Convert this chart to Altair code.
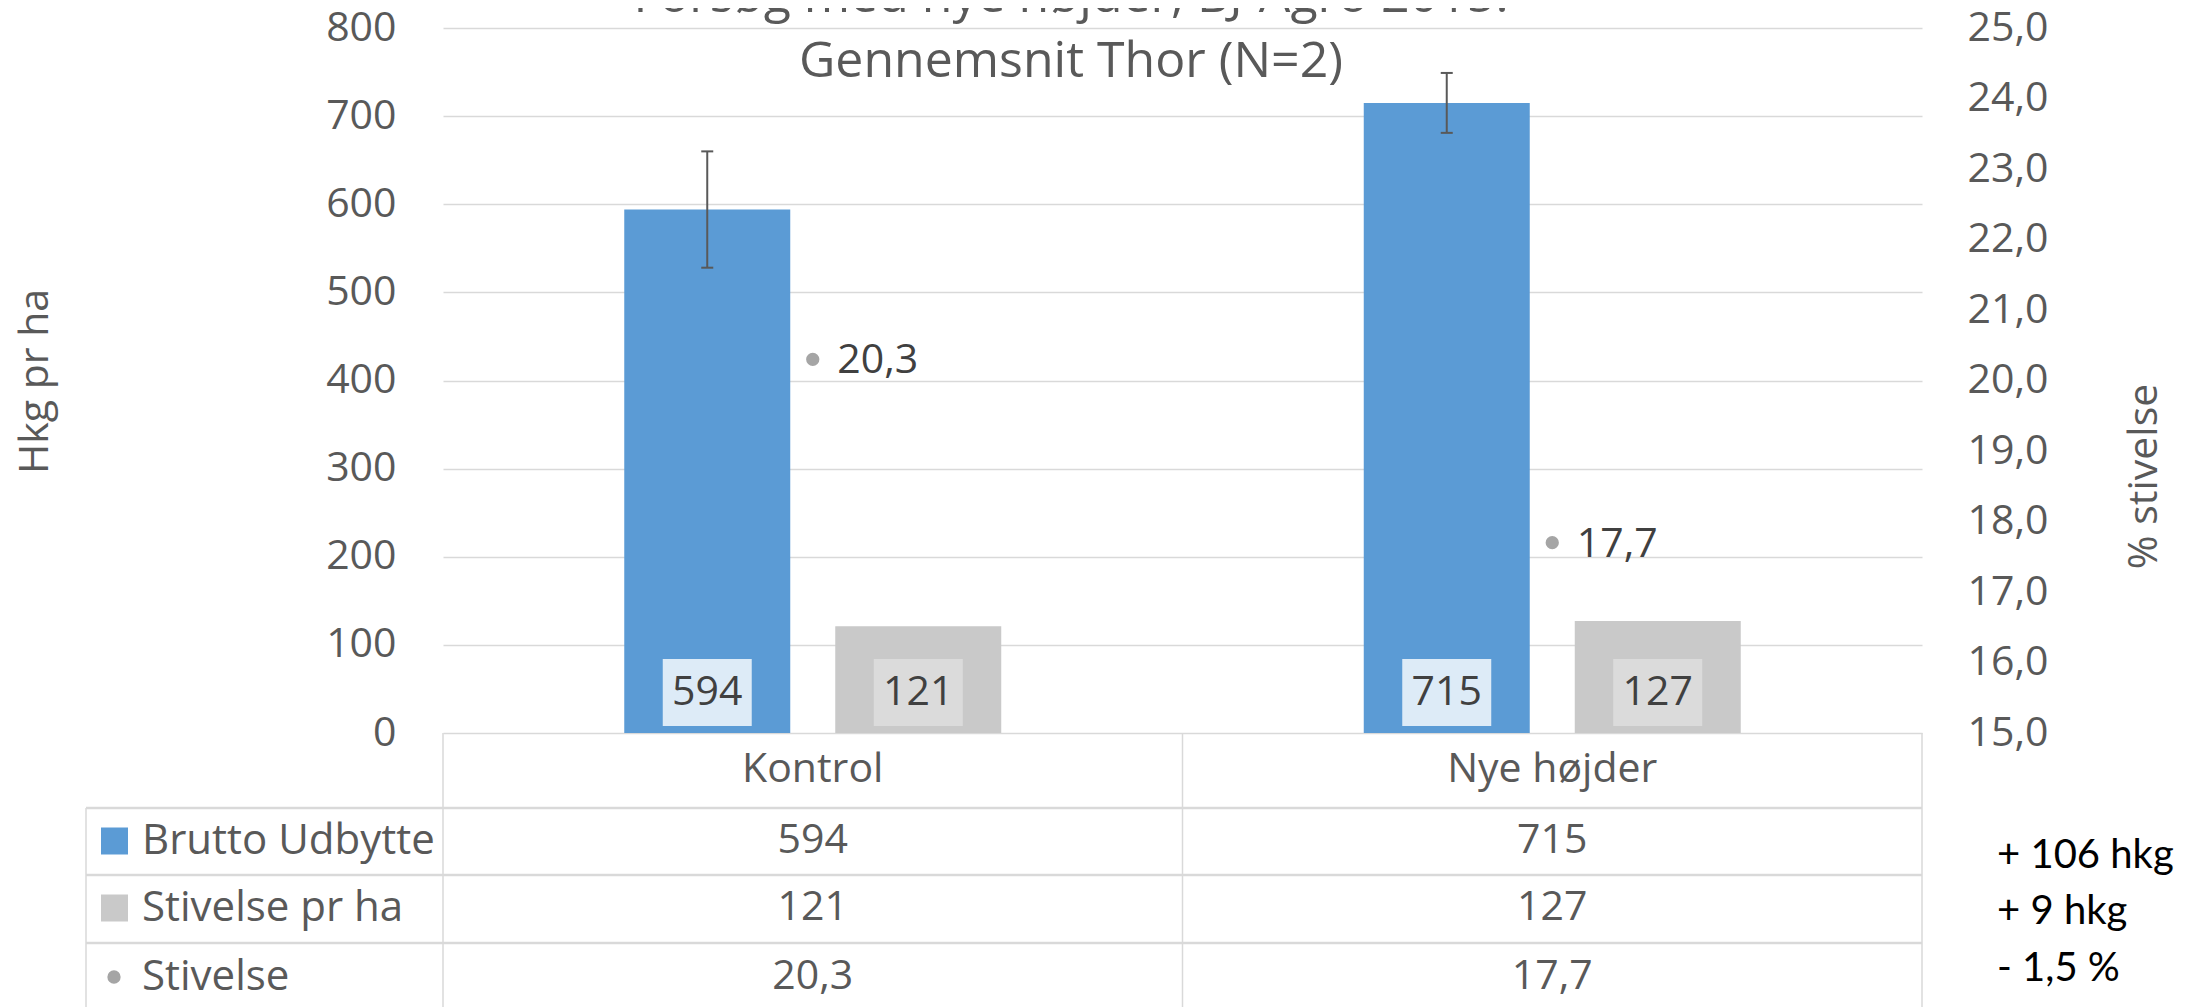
import altair as alt
import pandas as pd

# ---------------- data ----------------
CATEGORIES = ["Kontrol", "Nye højder"]
SERIES = ["Brutto Udbytte", "Stivelse pr ha", "Stivelse"]
BRUTTO = [594, 715]
BRUTTO_ERR = [66, 34]
STIVELSE_HA = [121, 127]
STIVELSE_PCT = [20.3, 17.7]
DIFFS = ["+ 106 hkg", "+ 9 hkg", "- 1,5 %"]
TITLE = ["Forsøg med nye højder, BJ-Agro 2015:", "Gennemsnit Thor (N=2)"]
LEFT_TICKS = [0, 100, 200, 300, 400, 500, 600, 700, 800]
RIGHT_TICKS = [15.0, 16.0, 17.0, 18.0, 19.0, 20.0, 21.0, 22.0, 23.0, 24.0, 25.0]

# ---------------- style ----------------
BLUE = "#5B9BD5"
GRAY = "#C9C9C9"
DOT = "#A5A5A5"
BOX_BLUE = "#DDEBF7"
BOX_GRAY = "#DBDBDB"
GRID = "#D9D9D9"
TXT = "#595959"
LBL = "#404040"
FONT = "Open Sans"
FS = 41

W, H = 1479, 705
HEADER_Y = 742                   # category header row centre (view px)
ROW_Y = [813, 880, 949]          # table row centres (view px)
LINE_Y = [780, 847, 915]         # table horizontal rules (view px)
TABLE_BOTTOM = 990
LEFT_EDGE = -357

bars_df = pd.DataFrame({
    "cat": CATEGORIES * 2,
    "series": [SERIES[0]] * 2 + [SERIES[1]] * 2,
    "value": BRUTTO + STIVELSE_HA,
})
bars_df["base"] = 0
bars_df["label"] = bars_df["value"].astype(str)

err_df = pd.DataFrame({
    "cat": CATEGORIES,
    "series": [SERIES[0]] * 2,
    "lo": [v - e for v, e in zip(BRUTTO, BRUTTO_ERR)],
    "hi": [v + e for v, e in zip(BRUTTO, BRUTTO_ERR)],
})

pct_df = pd.DataFrame({
    "cat": CATEGORIES,
    "pct": STIVELSE_PCT,
    "label": [f"{v:.1f}".replace(".", ",") for v in STIVELSE_PCT],
})

cat_df = pd.DataFrame({"cat": CATEGORIES})
one = pd.DataFrame({"k": [0]})

x_scale = alt.Scale(domain=CATEGORIES, paddingInner=0, paddingOuter=0)
xoff_scale = alt.Scale(domain=SERIES[:2], paddingInner=0.2133, paddingOuter=0.859)
y_left = alt.Scale(domain=[0, 800], nice=False, zero=True)
y_right = alt.Scale(domain=[15, 25], nice=False, zero=False)

X_PLAIN = alt.X("cat:N", scale=x_scale, sort=CATEGORIES, axis=None)
XOFF = alt.XOffset("series:N", scale=xoff_scale, sort=SERIES[:2])


def y_hidden(f):
    return alt.Y(f, scale=y_left, axis=None)


left_axis = alt.Axis(
    title="Hkg pr ha", values=LEFT_TICKS, format="d", grid=True, gridColor=GRID,
    gridWidth=1.5, domain=False, ticks=False, labelPadding=47, labelFont=FONT,
    labelFontSize=FS, labelColor=TXT, titleFont=FONT, titleFontSize=FS,
    titleFontWeight="normal", titleColor=TXT, titleAngle=-90, titleX=-396, titleY=353,
    titleAlign="center", titleBaseline="alphabetic", orient="left")

right_axis = alt.Axis(
    orient="right", title="% stivelse", values=RIGHT_TICKS,
    labelExpr="replace(format(datum.value, '.1f'), '.', ',')", grid=False,
    domain=False, ticks=False, labelPadding=45, labelFont=FONT, labelFontSize=FS,
    labelColor=TXT, titleFont=FONT, titleFontSize=FS, titleFontWeight="normal",
    titleColor=TXT, titleAngle=-90, titleX=234, titleY=448, titleAlign="center",
    titleBaseline="alphabetic")

layers = []

layers.append(alt.Chart(bars_df).mark_bar().encode(
    x=X_PLAIN, xOffset=XOFF,
    y=alt.Y("value:Q", scale=y_left, axis=left_axis),
    color=alt.Color("series:N", scale=alt.Scale(domain=SERIES[:2], range=[BLUE, GRAY]), legend=None),
))

layers.append(alt.Chart(err_df).mark_rule(color=TXT, strokeWidth=2).encode(
    x=X_PLAIN, xOffset=XOFF, y=y_hidden("lo:Q"), y2="hi:Q"))
CAP_PATH = "M-1,0L1,0"
for f in ["lo:Q", "hi:Q"]:
    layers.append(alt.Chart(err_df).mark_point(shape=CAP_PATH, size=144, filled=False, stroke=TXT,
                                               strokeWidth=2, opacity=1).encode(
        x=X_PLAIN, xOffset=XOFF, y=y_hidden(f)))

BOX_PATH = "M-1,-1.663L1,-1.663L1,-0.157L-1,-0.157Z"
layers.append(alt.Chart(bars_df).mark_point(shape=BOX_PATH, size=89 * 89, filled=True,
                                            opacity=1, strokeWidth=0).encode(
    x=X_PLAIN, xOffset=XOFF, y=y_hidden("base:Q"),
    fill=alt.Fill("series:N", scale=alt.Scale(domain=SERIES[:2], range=[BOX_BLUE, BOX_GRAY]), legend=None),
))
layers.append(alt.Chart(bars_df).mark_text(dy=-40.5, baseline="middle", font=FONT,
                                           fontSize=FS, color=LBL).encode(
    x=X_PLAIN, xOffset=XOFF, y=y_hidden("base:Q"), text="label:N"))

layers.append(alt.Chart(pct_df).mark_circle(size=177, color=DOT, opacity=1).encode(
    x=X_PLAIN, y=alt.Y("pct:Q", scale=y_right, axis=right_axis)))
layers.append(alt.Chart(pct_df).mark_text(align="left", baseline="middle", dx=24.5, dy=2,
                                          font=FONT, fontSize=FS, color=LBL).encode(
    x=X_PLAIN, y=alt.Y("pct:Q", scale=y_right, axis=None), text="label:N"))

# ---------------- data table ----------------
# category header labels
layers.append(alt.Chart(cat_df).mark_text(align="center", baseline="middle", font=FONT,
                                          fontSize=FS, color=TXT).encode(
    x=X_PLAIN, y=alt.value(HEADER_Y), text="cat:N"))

layers.append(alt.Chart(cat_df).mark_rule(color=GRID, strokeWidth=1.5).encode(
    x=alt.X("cat:N", scale=x_scale, sort=CATEGORIES, axis=None, bandPosition=0),
    y=alt.value(H), y2=alt.value(TABLE_BOTTOM)))
layers.append(alt.Chart(cat_df.tail(1)).mark_rule(color=GRID, strokeWidth=1.5).encode(
    x=alt.X("cat:N", scale=x_scale, sort=CATEGORIES, axis=None, bandPosition=1),
    y=alt.value(H), y2=alt.value(TABLE_BOTTOM)))
layers.append(alt.Chart(one).mark_rule(color=GRID, strokeWidth=1.5).encode(
    x=alt.value(LEFT_EDGE), y=alt.value(LINE_Y[0]), y2=alt.value(TABLE_BOTTOM)))
for ly in LINE_Y:
    layers.append(alt.Chart(one).mark_rule(color=GRID, strokeWidth=2.5).encode(
        x=alt.value(LEFT_EDGE), x2=alt.value(W), y=alt.value(ly)))

# row labels + legend symbols
layers.append(alt.Chart(one).mark_square(size=27 * 27, color=BLUE, opacity=1).encode(
    x=alt.value(-328.5), y=alt.value(ROW_Y[0])))
layers.append(alt.Chart(one).mark_square(size=27 * 27, color=GRAY, opacity=1).encode(
    x=alt.value(-328.5), y=alt.value(ROW_Y[1])))
layers.append(alt.Chart(one).mark_circle(size=177, color=DOT, opacity=1).encode(
    x=alt.value(-329), y=alt.value(ROW_Y[2])))
for i, name in enumerate(SERIES):
    layers.append(alt.Chart(one).mark_text(align="left", baseline="middle", font=FONT,
                                           fontSize=42, color=TXT).encode(
        x=alt.value(-301), y=alt.value(ROW_Y[i]), text=alt.value(name)))

# row values
row_frames = [
    bars_df[bars_df["series"] == SERIES[0]],
    bars_df[bars_df["series"] == SERIES[1]],
    pct_df,
]
for i, fr in enumerate(row_frames):
    layers.append(alt.Chart(fr).mark_text(align="center", baseline="middle", font=FONT,
                                          fontSize=FS, color=TXT).encode(
        x=X_PLAIN, y=alt.value(ROW_Y[i]), text="label:N"))

# differences next to the table
DIFF_Y = [828, 884, 941]
for i, d in enumerate(DIFFS):
    layers.append(alt.Chart(one).mark_text(align="left", baseline="middle", font="Lato",
                                           fontSize=40, color="#000000").encode(
        x=alt.value(1554), y=alt.value(DIFF_Y[i]), text=alt.value(d)))

# title
TITLE_Y = [-16, 49]
for i, t in enumerate(TITLE):
    layers.append(alt.Chart(one).mark_text(align="center", baseline="alphabetic", font=FONT,
                                           fontSize=50, color=TXT).encode(
        x=alt.value(628), y=alt.value(TITLE_Y[i]), text=alt.value(t)))

chart = alt.layer(*layers).resolve_scale(y="independent").properties(
    width=W, height=H,
    autosize=alt.AutoSizeParams(type="none"),
    padding={"left": 435, "top": 20, "right": 256, "bottom": 274},
    background="white",
).configure_view(strokeWidth=0, stroke="transparent")

chart.save("out.html", embed_options={"renderer": "svg", "actions": False})
